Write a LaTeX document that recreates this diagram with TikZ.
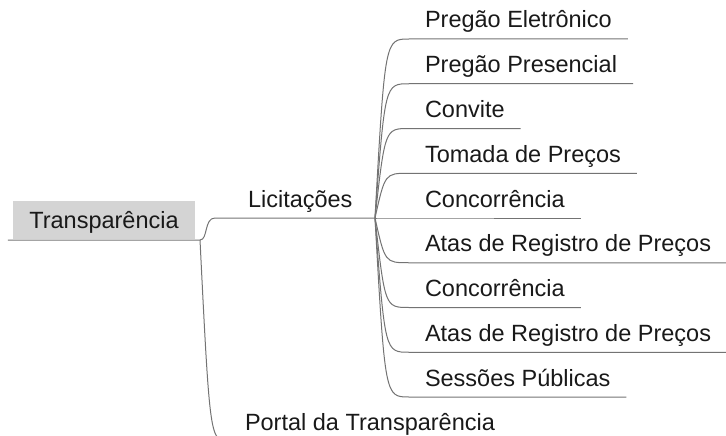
\documentclass[tikz,border=0pt]{standalone}
\usepackage{fontspec}
\setmainfont{Liberation Sans}
\usetikzlibrary{calc}

\begin{document}
\begin{tikzpicture}[x=1pt,y=-1pt,
    every node/.style={font=\fontsize{23.5}{28}\selectfont, text=black!90},
    branch/.style={draw=black!55, line width=1pt},
    topic/.style={anchor=south west, inner xsep=16pt, inner ysep=11pt, text height=17pt, text depth=0pt, outer sep=0pt},
    roottopic/.style={fill=black!17, minimum width=182pt, minimum height=38pt, inner sep=0pt, text height=16.8pt, text depth=0pt}]
    \useasboundingbox (0,0) rectangle (726,436);
    \clip (0,0) rectangle (726,436);

    % root
    \node[roottopic] (root) at (104,220) {Transparência};
    \coordinate (rj) at (200,240);
    \draw[branch] ($(root.south west)+(-5,1)$) -- (rj);

    % Licitações
    \node[topic] (lic) at (232,218) {Licitações};
    \coordinate (lj) at (375,218);
    \draw[branch] (rj) .. controls (208,240) and (204,218) .. ($(lic.south west)+(-17,0)$) -- (lj);

    \foreach \lbl [count=\i] in {Pregão Eletrônico, Pregão Presencial, Convite, Tomada de Preços, Concorrência, Atas de Registro de Preços, Concorrência, Atas de Registro de Preços, Sessões Públicas} {
        \pgfmathsetmacro{\ty}{39+44.75*(\i-1)}
        \node[topic] (sub\i) at (409,\ty) {\lbl};
        \draw[branch] (lj) .. controls (385,\ty) .. (sub\i.south west) -- (sub\i.south east);
    }

    % Portal
    \node[topic] (portal) at (229,441) {Portal da Transparência};
    \draw[branch] (rj) .. controls (210,441) .. (portal.south west) -- (portal.south east);
\end{tikzpicture}
\end{document}
